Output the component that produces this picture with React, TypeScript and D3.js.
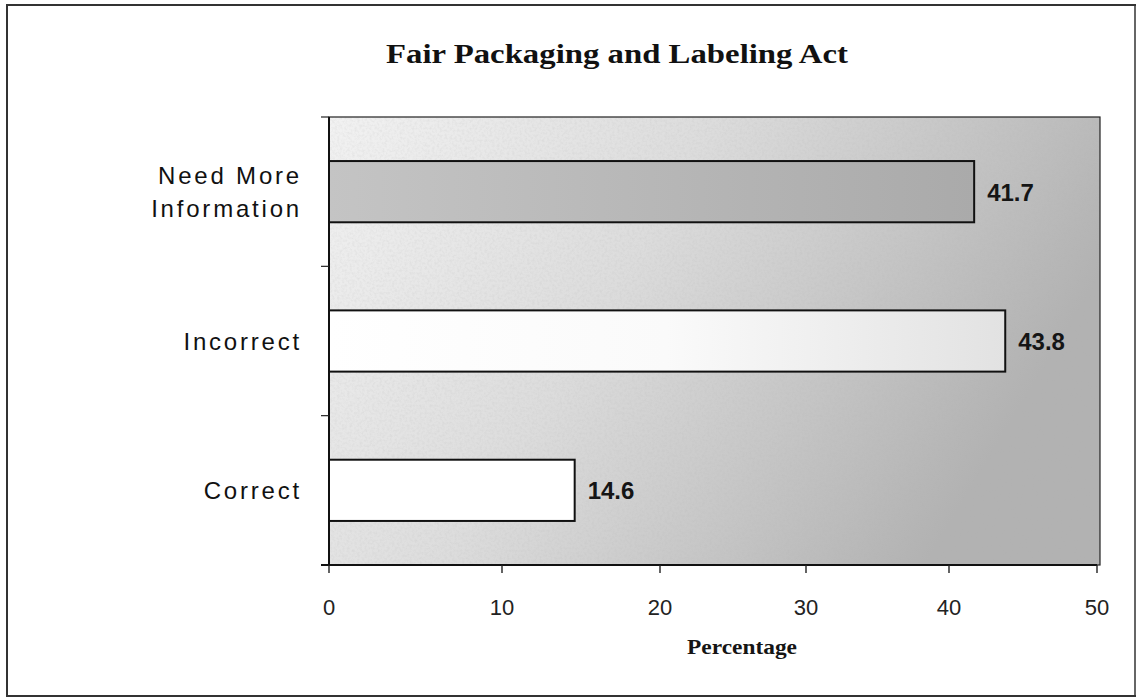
import React from "react";
import * as d3 from "d3";

const title = "Fair Packaging and Labeling Act";
const categories = ["Need More Information", "Incorrect", "Correct"];
const categoryLines = [["Need More", "Information"], ["Incorrect"], ["Correct"]];
const values = [41.7, 43.8, 14.6];
const tickValues = [0, 10, 20, 30, 40, 50];
const xLabel = "Percentage";
const barFills = ["url(#gBarDark)", "url(#gBarLight)", "#ffffff"];

const W = 1141;
const H = 699;
const plot = { left: 329, top: 117, right: 1100, bottom: 565 };

export default function App() {
  // axis calibrated to the scanned tick positions
  const x = d3
    .scaleLinear()
    .domain(tickValues)
    .range([329, 502, 660, 806, 949, 1097]);
  const y = d3
    .scaleBand<string>()
    .domain(categories)
    .range([plot.top, plot.bottom])
    .paddingInner(0.59)
    .paddingOuter(0.295);
  const band = d3
    .scaleBand<string>()
    .domain(categories)
    .range([plot.top, plot.bottom]);
  const boundaries = [plot.top, ...categories.map((c) => (band(c) as number) + band.bandwidth())];

  return (
    <div style={{ position: "absolute", left: 0, top: 0 }}>
      <svg width={W} height={H} style={{ display: "block", background: "#fff" }}>
        <defs>
          <linearGradient id="gBg" x1="0" y1="0" x2="1" y2="0.35">
            <stop offset="0" stopColor="#f2f2f2" />
            <stop offset="0.45" stopColor="#dcdcdc" />
            <stop offset="1" stopColor="#b2b2b2" />
          </linearGradient>
          <linearGradient id="gBarDark" x1="0" y1="0" x2="1" y2="0">
            <stop offset="0" stopColor="#c4c4c4" />
            <stop offset="1" stopColor="#aaaaaa" />
          </linearGradient>
          <linearGradient id="gBarLight" x1="0" y1="0" x2="1" y2="0">
            <stop offset="0" stopColor="#ffffff" />
            <stop offset="0.5" stopColor="#fafafa" />
            <stop offset="1" stopColor="#e2e2e2" />
          </linearGradient>
          <filter id="noise" x="0" y="0" width="100%" height="100%">
            <feTurbulence type="fractalNoise" baseFrequency="0.4" numOctaves="2" seed="3" />
            <feColorMatrix
              type="matrix"
              values="0 0 0 0 0.45  0 0 0 0 0.45  0 0 0 0 0.45  0 0 0 -2 1.2"
            />
          </filter>
        </defs>

        {/* outer frame */}
        <line x1={6} x2={1136} y1={5} y2={5} stroke="#333" strokeWidth={2} />
        <line x1={6} x2={1136} y1={696} y2={696} stroke="#333" strokeWidth={2} />
        <line x1={7} x2={7} y1={5} y2={696} stroke="#333" strokeWidth={2} />
        <line x1={1135} x2={1135} y1={5} y2={696} stroke="#333" strokeWidth={1.5} />

        <text
          x={617}
          y={63}
          textAnchor="middle"
          fontFamily="'Liberation Serif', 'Times New Roman', serif"
          fontWeight="bold"
          fontSize={27}
          fill="#111"
          textLength={462}
          lengthAdjust="spacingAndGlyphs"
        >
          {title}
        </text>

        {/* plot area */}
        <rect
          x={plot.left}
          y={plot.top}
          width={plot.right - plot.left}
          height={plot.bottom - plot.top}
          fill="url(#gBg)"
        />
        <rect
          x={plot.left}
          y={plot.top}
          width={plot.right - plot.left}
          height={plot.bottom - plot.top}
          fill="#888"
          filter="url(#noise)"
          opacity={0.18}
        />
        <rect
          x={plot.left}
          y={plot.top}
          width={plot.right - plot.left}
          height={plot.bottom - plot.top}
          fill="none"
          stroke="#222"
          strokeWidth={1.2}
        />

        {/* bars */}
        {categories.map((c, i) => (
          <g key={c}>
            <rect
              x={x(0)}
              y={y(c)}
              width={x(values[i]) - x(0)}
              height={y.bandwidth()}
              fill={barFills[i]}
              stroke="#111"
              strokeWidth={2}
            />
            <text
              x={x(values[i]) + 13}
              y={(y(c) as number) + y.bandwidth() / 2 + 9}
              fontFamily="'Liberation Sans', Arial, sans-serif"
              fontWeight="bold"
              fontSize={24}
              fill="#151515"
            >
              {values[i].toFixed(1)}
            </text>
          </g>
        ))}

        {/* y axis */}
        <line x1={plot.left} x2={plot.left} y1={plot.top} y2={plot.bottom} stroke="#111" strokeWidth={2} />
        {boundaries.map((b, i) => (
          <line key={i} x1={plot.left - 8} x2={plot.left} y1={b} y2={b} stroke="#222" strokeWidth={1.2} />
        ))}
        {categories.map((c, i) => {
          const lines = categoryLines[i];
          const cy = (band(c) as number) + band.bandwidth() / 2;
          const lh = 33;
          return (
            <text
              key={c}
              textAnchor="end"
              fontFamily="'Liberation Sans', Arial, sans-serif"
              fontSize={24}
              letterSpacing={2.8}
              fill="#111"
            >
              {lines.map((l, k) => (
                <tspan key={k} x={302} y={cy + 9 + (k - (lines.length - 1) / 2) * lh}>
                  {l}
                </tspan>
              ))}
            </text>
          );
        })}

        {/* x axis */}
        <line x1={plot.left - 8} x2={x(50)} y1={plot.bottom} y2={plot.bottom} stroke="#111" strokeWidth={2} />
        {tickValues.map((t) => (
          <g key={t}>
            <line x1={x(t)} x2={x(t)} y1={plot.bottom} y2={plot.bottom + 8} stroke="#222" strokeWidth={1.4} />
            <text
              x={x(t)}
              y={615}
              textAnchor="middle"
              fontFamily="'Liberation Sans', Arial, sans-serif"
              fontSize={22}
              fill="#222"
            >
              {t}
            </text>
          </g>
        ))}
        <text
          x={742}
          y={654}
          textAnchor="middle"
          fontFamily="'Liberation Serif', 'Times New Roman', serif"
          fontWeight="bold"
          fontSize={21}
          fill="#151515"
          textLength={110}
          lengthAdjust="spacingAndGlyphs"
        >
          {xLabel}
        </text>
      </svg>
    </div>
  );
}
